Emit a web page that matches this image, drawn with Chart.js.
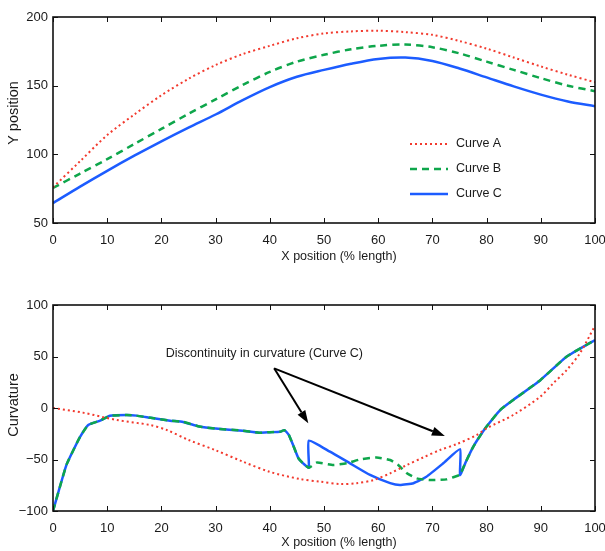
<!DOCTYPE html>
<html>
<head>
<meta charset="utf-8">
<script src="https://cdn.jsdelivr.net/npm/chart.js@4/dist/chart.umd.min.js"></script>
<style>
  body { margin: 0; background: #fff; }
  #wrap { position: relative; width: 605px; height: 551px; }
  canvas { position: absolute; left: 0; }
</style>
</head>
<body>
<div id="wrap">
  <canvas id="posChart" width="605" height="275" style="top:0px"></canvas>
  <canvas id="curvChart" width="605" height="276" style="top:275px"></canvas>
</div>
<script>
// --- top panel: Y position vs X position ---
const xTop = [0, 5, 10, 15, 20, 25, 30, 35, 40, 45, 50, 55, 60, 65, 70, 75, 80, 85, 90, 95, 100];
const posA = [76, 95, 114, 129, 143, 155, 165, 173, 179, 184.5, 188, 189.5, 190, 189, 187, 182.5, 177, 170.5, 164, 158, 152.5];
const posB = [75.5, 86, 96.5, 107.5, 118.5, 129.5, 140, 150.5, 160, 167.5, 172.5, 176.5, 179, 180, 178, 173.5, 167.5, 161.5, 155.5, 150, 146];
const posC = [64.5, 76.5, 88, 99, 109.5, 119.5, 129, 139.5, 149, 156.5, 161.5, 166, 169.5, 170.5, 168, 162.5, 156, 149.5, 143.5, 138.5, 135];

// --- bottom panel: curvature ---
const xCurvA = [0, 5.5, 11.7, 17.9, 21, 25, 30, 35, 40, 45.6, 49.3, 53, 56, 59.1, 62.2, 65.3, 68.3, 71.4, 74.5, 78.2, 80, 84.9, 89.9, 92.3, 94.8, 97.2, 100];
const curvA  = [0, -4.5, -11.6, -16.5, -21.4, -31, -41, -52, -62, -69, -71.5, -73.8, -73, -70, -63.4, -55.3, -48, -40.8, -35, -26.2, -19.7, -6.8, 11, 24, 37, 53, 80];
// shared part of B and C before the first discontinuity
const xStart = [0, 1.3, 2.5, 3.75, 5, 6.5, 8.7, 10.5, 13.6, 15.4, 18, 21.6, 24, 27, 30, 35, 38, 40, 41.9, 42.7, 43.5, 44.3, 45.3, 46.2, 47.2];
const kStart = [-100, -76, -55, -41, -28, -16.5, -12.3, -7.5, -6.8, -7.4, -9.5, -12.3, -13.5, -18, -20, -22, -24, -23.5, -23, -21.5, -26, -36, -49, -54, -58];
// middle part, differs between B and C
const xMidB = [48.7, 51.7, 54.2, 56.6, 59.7, 62.2, 63.7, 65.3, 67.1, 69.6, 72.6, 75.1];
const kMidB = [-53, -55.3, -53.7, -50, -48, -50.5, -55.3, -63.4, -68.3, -70, -69.3, -65];
const xMidC = [47.2, 51.1, 54.8, 58.5, 62.2, 64, 66.5, 68.9, 72, 75.1];
const kMidC = [-31.7, -42.4, -53.7, -65, -73, -74.8, -73, -66.7, -53.7, -40];
// shared part after the second discontinuity
const xEnd = [75.1, 76.2, 77.5, 78.8, 80, 82.5, 84.9, 89.9, 94.8, 100];
const kEnd = [-65, -52, -38, -27, -18, -2, 7.8, 27, 50, 66];

const noteText = 'Discontinuity in curvature (Curve C)';
const noteAt = [39, 53];
const arrowFrom = [40.8, 38.5];
const arrowTo = [[47.1, -14.9], [72.3, -27.2]];

function pts(xs, ys) {
  return xs.map(function (x, i) { return { x: x, y: ys[i] }; });
}

const RED = '#f23a2e', GREEN = '#0ea64b', BLUE = '#1c5cff';
const FAMILY = '"Liberation Sans", Arial, Helvetica, sans-serif';
const TICKFONT = { family: FAMILY, size: 13 };
const TXT = '#1a1a1a';

// MATLAB style box with inward ticks on all sides
const boxPlugin = {
  id: 'boxTicks',
  afterDatasetsDraw: function (chart) {
    const ctx = chart.ctx, a = chart.chartArea;
    const sx = chart.scales.x, sy = chart.scales.y;
    ctx.save();
    ctx.strokeStyle = '#111';
    ctx.lineWidth = 1;
    ctx.beginPath();
    sx.ticks.forEach(function (t) {
      const px = Math.round(sx.getPixelForValue(t.value)) + 0.5;
      ctx.moveTo(px, a.bottom); ctx.lineTo(px, a.bottom - 5);
      ctx.moveTo(px, a.top); ctx.lineTo(px, a.top + 5);
    });
    sy.ticks.forEach(function (t) {
      const py = Math.round(sy.getPixelForValue(t.value)) + 0.5;
      ctx.moveTo(a.left, py); ctx.lineTo(a.left + 5, py);
      ctx.moveTo(a.right, py); ctx.lineTo(a.right - 5, py);
    });
    ctx.stroke();
    ctx.lineWidth = 1.6;
    ctx.strokeRect(a.left, a.top, a.right - a.left, a.bottom - a.top);
    ctx.restore();
  }
};

// axis titles (placed like the MATLAB original, x label a bit right of centre)
const titlePlugin = {
  id: 'axisTitles',
  afterDraw: function (chart, args, o) {
    const ctx = chart.ctx, a = chart.chartArea;
    ctx.save();
    ctx.fillStyle = TXT;
    ctx.textAlign = 'center';
    ctx.textBaseline = 'middle';
    ctx.font = '12.5px ' + FAMILY;
    ctx.fillText(o.xText, (a.left + a.right) / 2 + o.xShift, o.xY);
    ctx.translate(o.yX, (a.top + a.bottom) / 2 + o.yShift);
    ctx.rotate(-Math.PI / 2);
    ctx.font = '14.5px ' + FAMILY;
    ctx.fillText(o.yText, 0, 0);
    ctx.restore();
  }
};

// legend drawn inside the plot area
const inLegend = {
  id: 'inLegend',
  afterDraw: function (chart, args, opts) {
    if (!opts.show) return;
    const ctx = chart.ctx;
    ctx.save();
    ctx.font = '12.5px ' + FAMILY;
    ctx.textBaseline = 'middle';
    chart.data.datasets.forEach(function (ds, i) {
      const y = opts.y + i * opts.rowH;
      ctx.strokeStyle = ds.borderColor;
      ctx.lineWidth = ds.borderWidth;
      ctx.setLineDash(ds.borderDash || []);
      ctx.beginPath();
      ctx.moveTo(opts.x, y); ctx.lineTo(opts.x + 38, y);
      ctx.stroke();
      ctx.setLineDash([]);
      ctx.fillStyle = TXT;
      ctx.fillText(ds.label, opts.x + 46, y);
    });
    ctx.restore();
  }
};

// text + arrows placed in data coordinates
const notePlugin = {
  id: 'note',
  afterDraw: function (chart, args, opts) {
    if (!opts.show) return;
    const ctx = chart.ctx, sx = chart.scales.x, sy = chart.scales.y;
    ctx.save();
    ctx.font = '12.5px ' + FAMILY;
    ctx.fillStyle = TXT;
    ctx.textAlign = 'center';
    ctx.textBaseline = 'middle';
    ctx.fillText(noteText, sx.getPixelForValue(noteAt[0]), sy.getPixelForValue(noteAt[1]));
    const x0 = sx.getPixelForValue(arrowFrom[0]), y0 = sy.getPixelForValue(arrowFrom[1]);
    ctx.strokeStyle = '#000';
    ctx.fillStyle = '#000';
    ctx.lineWidth = 2;
    arrowTo.forEach(function (p) {
      const x1 = sx.getPixelForValue(p[0]), y1 = sy.getPixelForValue(p[1]);
      const ang = Math.atan2(y1 - y0, x1 - x0);
      const hl = 13, hw = 4.5;
      const bx = x1 - hl * Math.cos(ang), by = y1 - hl * Math.sin(ang);
      ctx.beginPath();
      ctx.moveTo(x0, y0); ctx.lineTo(bx, by);
      ctx.stroke();
      ctx.beginPath();
      ctx.moveTo(x1, y1);
      ctx.lineTo(bx + hw * Math.sin(ang), by - hw * Math.cos(ang));
      ctx.lineTo(bx - hw * Math.sin(ang), by + hw * Math.cos(ang));
      ctx.closePath();
      ctx.fill();
    });
    ctx.restore();
  }
};

function minus(v) { return String(v).replace('-', '\u2212'); }

function makeScales(yMin, yMax, xAxisH) {
  return {
    x: {
      type: 'linear', min: 0, max: 100,
      ticks: { stepSize: 10, padding: 10, font: TICKFONT, color: TXT, maxRotation: 0 },
      grid: { display: false, drawTicks: false },
      border: { display: false },
      afterFit: function (s) { s.height = xAxisH; s.paddingLeft = 0; s.paddingRight = 0; }
    },
    y: {
      min: yMin, max: yMax,
      ticks: { stepSize: 50, padding: 5, font: TICKFONT, color: TXT, callback: minus },
      grid: { display: false, drawTicks: false },
      border: { display: false },
      afterFit: function (s) { s.width = 53; s.paddingTop = 0; s.paddingBottom = 0; }
    }
  };
}

function lineSet(label, data, color, width, dash, tension) {
  return {
    label: label, data: data, borderColor: color, backgroundColor: color,
    borderWidth: width, borderDash: dash, pointRadius: 0, fill: false,
    tension: tension, borderCapStyle: 'butt'
  };
}

new Chart(document.getElementById('posChart'), {
  type: 'line',
  data: {
    datasets: [
      lineSet('Curve A', pts(xTop, posA), RED, 2, [2, 3], 0.3),
      lineSet('Curve B', pts(xTop, posB), GREEN, 2.5, [7, 5], 0.3),
      lineSet('Curve C', pts(xTop, posC), BLUE, 2.5, [], 0.3)
    ]
  },
  options: {
    responsive: false, animation: false,
    layout: { padding: { top: 17, right: 10, left: 0, bottom: 0 } },
    plugins: {
      legend: { display: false }, tooltip: { enabled: false },
      inLegend: { show: true, x: 410, y: 144, rowH: 25 },
      note: { show: false },
      axisTitles: { xText: 'X position (% length)', yText: 'Y position', xShift: 15, xY: 256.5, yX: 14, yShift: -7 }
    },
    scales: makeScales(50, 200, 52)
  },
  plugins: [boxPlugin, inLegend, notePlugin, titlePlugin]
});

const curveBData = pts(xStart, kStart).concat(pts(xMidB, kMidB), pts(xEnd, kEnd));
const curveCData = pts(xStart, kStart).concat(pts(xMidC, kMidC), pts(xEnd, kEnd));

new Chart(document.getElementById('curvChart'), {
  type: 'line',
  data: {
    datasets: [
      lineSet('Curve A', pts(xCurvA, curvA), RED, 2, [2, 3], 0.3),
      lineSet('Curve B', curveBData, GREEN, 2.5, [7, 5], 0.15),
      lineSet('Curve C', curveCData, BLUE, 2.5, [], 0.15)
    ]
  },
  options: {
    responsive: false, animation: false,
    layout: { padding: { top: 30, right: 10, left: 0, bottom: 0 } },
    plugins: {
      legend: { display: false }, tooltip: { enabled: false },
      inLegend: { show: false },
      note: { show: true },
      axisTitles: { xText: 'X position (% length)', yText: 'Curvature', xShift: 15, xY: 268, yX: 14, yShift: -3 }
    },
    scales: makeScales(-100, 100, 40)
  },
  plugins: [boxPlugin, inLegend, notePlugin, titlePlugin]
});
</script>
</body>
</html>
